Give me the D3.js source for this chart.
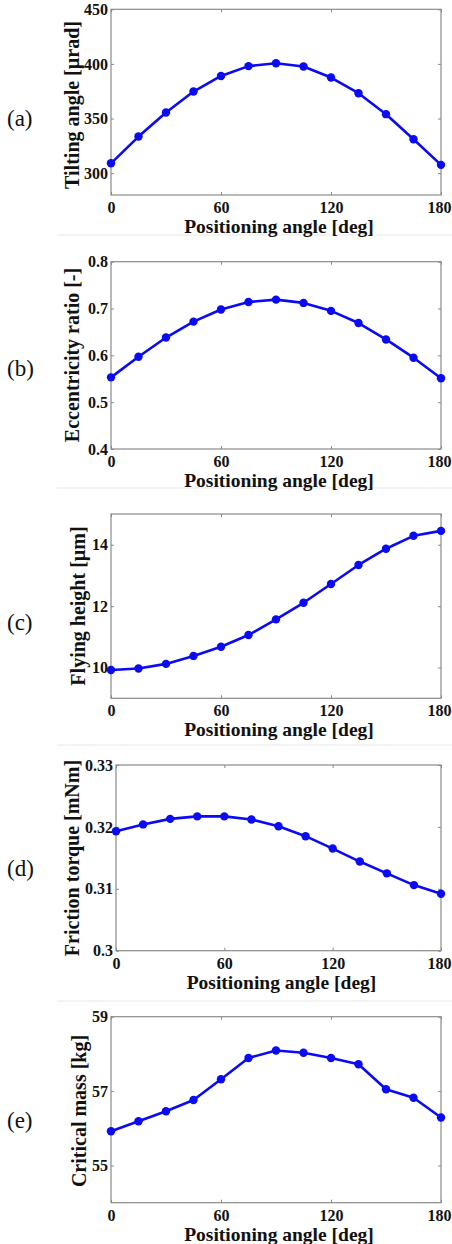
<!DOCTYPE html>
<html><head><meta charset="utf-8">
<script src="https://cdn.jsdelivr.net/npm/d3@7"></script>
<style>body{margin:0;background:#fff}svg{display:block}</style>
</head><body>
<script>
const angles = [0,15,30,45,60,75,90,105,120,135,150,165,180];
const xTicks = [0,60,120,180];
const tiltingAngle = [309,333.5,355.5,374.7,389,398,400.6,397.6,387.5,373.2,354,331,307.6];
const eccentricity = [0.553,0.597,0.638,0.672,0.698,0.714,0.719,0.712,0.695,0.669,0.634,0.595,0.551];
const flyingHeight = [9.92,9.97,10.12,10.38,10.68,11.06,11.57,12.11,12.72,13.34,13.87,14.29,14.45];
const frictionTorque = [0.3193,0.3204,0.3213,0.3217,0.3217,0.3212,0.3201,0.3185,0.3165,0.3144,0.3125,0.3106,0.3092];
const criticalMass = [55.92,56.19,56.46,56.76,57.32,57.89,58.09,58.03,57.89,57.72,57.05,56.82,56.29];
const panelLabels = ["(a)","(b)","(c)","(d)","(e)"];
const yTitles = ["Tilting angle [\u00b5rad]","Eccentricity ratio [-]","Flying height [\u00b5m]","Friction torque [mNm]","Critical mass [kg]"];
const xTitle = "Positioning angle [deg]";
const yDomains = [[280,450],[0.4,0.8],[9,15],[0.3,0.33],[54,59]];
const yTickVals = [[300,350,400,450],[0.4,0.5,0.6,0.7,0.8],[10,12,14],[0.3,0.31,0.32,0.33],[55,57,59]];
const yFormats = [d3.format("d"), d3.format(".1f"), d3.format("d"), v => d3.format(".2f")(v).replace(/0$/,""), d3.format("d")];
const series = [tiltingAngle, eccentricity, flyingHeight, frictionTorque, criticalMass];

const layout = [
  {top:9.3, bottom:195, left:111, right:441, ylx:72, yly:105, ply:118, sep:235},
  {top:261.7, bottom:449, left:111, right:441, ylx:72, yly:355, ply:368, sep:488},
  {top:514, bottom:698.3, left:111, right:441, ylx:78, yly:606, ply:622, sep:745},
  {top:765, bottom:950.7, left:116, right:441, ylx:72, yly:858, ply:868, sep:1001},
  {top:1016.7, bottom:1202.7, left:111, right:441, ylx:79, yly:1111, ply:1120, sep:null}
];

const W = 452, H = 1244;
const svg = d3.select("body").append("svg").attr("width",W).attr("height",H);
const serif = "'Liberation Serif','Times New Roman',serif";
const blue = "#0a0af5";
const boxCol = "#8a8a8a";

series.forEach((vals,i) => {
  const L = layout[i];
  const x = d3.scaleLinear().domain([0,180]).range([L.left, L.right]);
  const y = d3.scaleLinear().domain(yDomains[i]).range([L.bottom, L.top]);
  const g = svg.append("g");

  if (L.sep !== null) {
    g.append("line").attr("x1",57).attr("x2",452).attr("y1",L.sep).attr("y2",L.sep)
      .attr("stroke","#efefef").attr("stroke-width",1.5);
  }

  g.append("rect").attr("x",L.left).attr("y",L.top).attr("width",L.right-L.left).attr("height",L.bottom-L.top)
    .attr("fill","none").attr("stroke",boxCol).attr("stroke-width",1.2);

  const ax = g.append("g").attr("transform",`translate(0,${L.bottom})`)
    .call(d3.axisBottom(x).tickValues(xTicks).tickSize(-3).tickPadding(6).tickFormat(d3.format("d")));
  const axT = g.append("g").attr("transform",`translate(0,${L.top})`)
    .call(d3.axisTop(x).tickValues(xTicks).tickSize(-3).tickFormat(""));
  const ay = g.append("g").attr("transform",`translate(${L.left},0)`)
    .call(d3.axisLeft(y).tickValues(yTickVals[i]).tickSize(-3).tickPadding(6).tickFormat(yFormats[i]));
  const ayR = g.append("g").attr("transform",`translate(${L.right},0)`)
    .call(d3.axisRight(y).tickValues(yTickVals[i]).tickSize(-3).tickFormat(""));
  [ax,axT,ay,ayR].forEach(a => {
    a.select(".domain").remove();
    a.selectAll(".tick line").attr("stroke",boxCol);
  });
  [ax,ay].forEach(a => a.selectAll("text").attr("font-family",serif).attr("font-weight","bold")
    .attr("font-size",16).attr("fill","#111"));
  ax.selectAll("text").attr("dy",null).attr("dominant-baseline","central").attr("y",12.5);
  // keep the last label inside the page
  ax.selectAll(".tick").each(function(d){
    if (d === 180) d3.select(this).select("text").attr("text-anchor","end").attr("x", 451 - x(180));
  });
  ay.selectAll("text").attr("x",-3);

  const line = d3.line().x((d,k)=>x(angles[k])).y(d=>y(d));
  g.append("path").datum(vals).attr("d",line).attr("fill","none")
    .attr("stroke",blue).attr("stroke-width",2.6).attr("stroke-linejoin","round");
  g.selectAll("circle.pt").data(vals).join("circle").attr("class","pt")
    .attr("cx",(d,k)=>x(angles[k])).attr("cy",d=>y(d)).attr("r",4.2).attr("fill",blue);

  g.append("text").attr("x",(L.left+L.right)/2 + 3).attr("y",L.bottom+31.5)
    .attr("text-anchor","middle").attr("dominant-baseline","central")
    .attr("font-family",serif).attr("font-weight","bold").attr("font-size",19.5).attr("fill","#111")
    .text(xTitle);
  g.append("text").attr("transform",`translate(${L.ylx},${L.yly}) rotate(-90)`)
    .attr("text-anchor","middle").attr("dominant-baseline","central")
    .attr("font-family",serif).attr("font-weight","bold").attr("font-size",20).attr("fill","#111")
    .text(yTitles[i]);
  g.append("text").attr("x",7).attr("y",L.ply).attr("dominant-baseline","central")
    .attr("font-family",serif).attr("font-size",23).attr("fill","#111")
    .text(panelLabels[i]);
});
</script>
</body></html>
